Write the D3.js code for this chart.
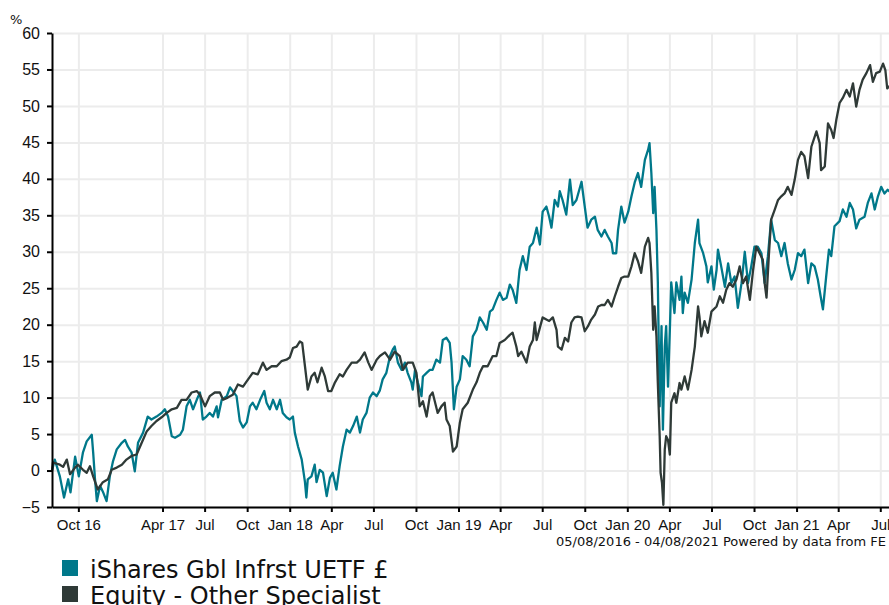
<!DOCTYPE html>
<html>
<head>
<meta charset="utf-8">
<script src="https://cdn.jsdelivr.net/npm/d3@7"></script>
<style>
  body { margin: 0; background: #fff; overflow: hidden; }
  svg { display: block; font-family: 'DejaVu Sans', Verdana, sans-serif; }
</style>
</head>
<body>
<div id="chart-area"></div>
<script>
// period shown and series names
const startDate = new Date(2016, 7, 5);
const endDate = new Date(2021, 7, 4);
const seriesNames = ['iShares Gbl Infrst UETF £', 'Equity - Other Specialist'];
const seriesColors = ['#00788a', '#2f3a37'];

// iShares Gbl Infrst UETF £ : days since 05/08/2016 and cumulative % return
const infraDays = [0,6,17,26,35,40,50,58,67,75,86,89,93,97,104,110,118,125,132,140,
  151,158,164,172,179,186,197,207,215,226,237,244,251,259,266,277,283,291,298,305,
  313,320,326,334,341,348,356,359,367,378,385,391,399,406,413,421,428,434,442,450,
  459,464,471,478,486,493,499,507,514,521,525,532,540,542,547,550,553,561,568,572,
  579,586,594,601,607,615,622,629,637,644,651,659,666,672,680,687,694,702,709,715,
  723,731,737,741,748,756,763,769,777,780,785,791,799,802,810,817,823,831,839,845,
  853,860,864,869,875,882,888,896,903,910,918,925,932,940,947,953,961,968,975,983,
  990,996,1004,1011,1018,1026,1033,1040,1048,1055,1061,1069,1075,1080,1087,1094,1098,1104,1112,1120,
  1126,1134,1145,1152,1158,1166,1174,1180,1188,1195,1202,1210,1213,1220,1224,1231,1238,1246,1253,1260,
  1267,1274,1282,1289,1292,1296,1300,1303,1307,1310,1314,1318,1321,1325,1328,1332,1336,1339,1346,1350,
  1357,1361,1364,1368,1375,1383,1390,1397,1400,1408,1415,1418,1426,1431,1437,1440,1447,1455,1462,1469,
  1476,1483,1491,1498,1505,1512,1519,1526,1534,1541,1548,1555,1563,1570,1577,1584,1591,1599,1606,1613,
  1620,1627,1635,1642,1649,1656,1662,1667,1674,1680,1685,1692,1703,1710,1718,1725,1732,1739,1746,1757,
  1764,1772,1779,1786,1793,1800,1807,1812];
const infraValues = [0,1.5,-0.8,-3.7,-1.2,-3,1.9,-0.8,2.5,4,
  4.9,2.5,-1.2,-4.2,-2.1,-2.9,-4.2,-0.8,1.3,2.9,
  3.8,4.2,3.3,2.5,-0.1,3.8,5.2,7.4,7,7.4,
  7.9,8.4,7.4,4.7,4.5,4.9,5.6,8.8,9.7,8.4,
  9.7,10.7,7,7.4,7.9,7.4,8.8,7.3,9.7,10.2,
  11.4,10.9,10.2,6.8,5.9,6.6,8.8,9.3,8.4,9.7,
  10.9,9.3,8.4,9.7,8.4,9.7,7.9,7.3,7,7.4,
  5.2,3.3,1.5,0.6,-1.6,-3.7,-1.2,-0.8,0.8,-1.6,
  0.1,-0.3,-3.5,-1,-0.3,-2.6,0.6,3.3,5.6,5.2,
  6.1,7.4,5.2,7,7.9,10,10.7,10.2,11,12.5,
  13.4,15.7,16.6,17,14.8,13.8,14.8,13.4,12.1,11.1,
  13.8,12.1,10.2,12.9,13.4,13.8,13.8,15.2,14.8,17.9,
  18.2,17.5,14.8,8.4,11.5,12.5,15.7,15.2,14.3,18.4,
  19.3,21,20.3,19.3,21.8,22.1,23.4,24.4,23.4,23.7,
  25.5,24.8,23,27.5,29.4,27.5,30.7,31.2,33.3,31,
  35.5,36.2,34.8,33.3,37.1,36.2,38.3,37.1,35.1,39.9,
  36.4,37.1,39.6,36.2,33.3,34.4,34.8,33,32.1,33,
  32.1,31.2,29.8,29.8,33,36.2,34,35.5,37.6,39.5,
  40.8,38.9,42.6,44,44.9,40.8,35.3,38.9,33,25.8,
  8.8,19.8,5.6,17,19.8,11.5,19.3,25.8,21.6,25.8,
  23.4,26.6,21.6,24.4,23,26.2,31.2,34.4,31.2,29.8,
  28,25.8,28,24.8,27.5,30.3,28,25.2,28.4,25.7,
  26.6,22.3,25.7,30,25.7,28,30.7,30.7,29.8,25.7,
  29.4,34.4,31.6,31.2,29.4,31.2,28.4,26.2,27.5,29.8,
  29.4,30.3,25.7,28.4,28,26.2,23.9,22.1,26.6,30.3,
  29.4,33.5,34.2,35.8,34.8,36.7,35.8,33.2,34.4,34.8,
  36.7,38,35.8,37.6,38.9,38,38.5,38.2];

// Equity - Other Specialist sector average
const sectorDays = [0,2,17,24,32,39,50,56,67,75,82,89,99,110,121,129,140,151,161,172,
  183,194,205,215,226,237,248,259,270,280,291,302,313,320,331,341,352,363,370,380,
  391,402,413,424,434,445,456,464,475,486,496,507,514,521,529,536,541,547,553,561,
  568,574,583,590,597,604,612,622,629,637,648,659,666,676,684,691,702,709,720,731,
  741,752,759,769,780,788,795,802,810,817,823,834,842,849,853,860,867,875,882,888,
  899,910,918,925,932,942,953,961,968,979,990,996,1004,1008,1015,1026,1033,1040,1044,1048,
  1055,1061,1069,1075,1083,1091,1094,1102,1109,1116,1123,1130,1137,1145,1152,1159,1166,1174,1181,1188,
  1195,1202,1210,1217,1224,1231,1238,1246,1253,1260,1267,1274,1282,1289,1292,1296,1300,1303,1307,1310,
  1314,1316,1319,1322,1325,1328,1332,1336,1339,1346,1350,1357,1361,1368,1375,1383,1390,1397,1400,1404,
  1411,1418,1426,1429,1437,1444,1451,1458,1465,1472,1480,1487,1494,1501,1509,1516,1523,1530,1537,1541,
  1545,1550,1555,1563,1570,1577,1584,1591,1599,1606,1613,1620,1627,1635,1642,1653,1660,1663,1671,1678,
  1685,1690,1696,1703,1710,1718,1725,1732,1739,1746,1753,1761,1769,1775,1782,1790,1797,1802,1806,1812];
const sectorValues = [0,1.1,0.8,0.5,1.5,-0.5,0.4,0.8,0.1,-0.3,
  0.6,-0.8,-2.6,-1.6,-1.2,0.1,0.4,0.8,1.5,2,
  2.2,3.8,5.4,6.1,6.8,7.3,7.9,8.4,8.6,9.7,
  9.7,10.7,10.9,10.4,8.8,10.2,10.7,10.7,9.7,10,
  10.4,11.8,11.5,12.5,13.4,13.2,14.8,13.8,14.3,14.3,
  15,15.2,15.5,16.8,17,17.7,17.5,14.3,11.1,12.9,
  13.4,12.1,14.1,12.9,10.9,10.9,12.1,13.2,12.9,13.8,
  14.8,14.8,15.2,16.2,14.8,13.8,15.2,15.7,16.2,15.2,
  16.3,15.7,13.8,14.8,14.8,13.4,8.8,9.5,7.4,10.2,
  10.7,7.9,8.8,9.3,7,6.1,2.6,3.3,6.6,8.4,
  9.3,11.1,12.1,13.4,14.3,14.3,15.7,15.7,17.5,17.9,
  18.6,18.9,17,15.7,16.3,14.8,17,17.9,20.3,17.9,
  19.6,21,20.7,20.5,21,19.3,17,16.6,18.2,17.7,
  20.3,21,21.1,21,19.1,19.8,20.7,21.4,22.5,22.7,
  22.7,23.4,22.5,23.9,25.2,26.4,26.6,26.6,28,29.8,
  28.7,27.1,30.7,31.9,31.2,27.1,19.3,22.5,18.4,12,
  4.7,-0.3,-1.7,-4.7,2.9,4.7,4.2,2.2,9.3,10.6,
  9.3,12,11.1,12.9,11.1,13.8,17,22.5,21.1,18.4,
  20.5,18.9,21.8,22,22.5,23.9,23,24.8,25.7,25.2,
  26.2,28,25.7,26.6,23.4,27.5,30.7,29.8,28.9,25.7,
  23.7,29.4,34.4,35.8,37.1,37.6,38,38.9,37.8,39.9,
  42.6,43.7,43.1,40.1,44.4,46.5,44.9,41.2,41.7,47.6,
  46.7,45.6,48.1,50.4,51.1,52.2,51.3,53.1,49.9,52.2,
  53.6,54.5,55.6,53.3,54.5,54.7,55.8,54.9,52.4,52.8];

// axis ticks
const yTicks = [-5, 0, 5, 10, 15, 20, 25, 30, 35, 40, 45, 50, 55, 60];
const xTickDates = ['2016-10-01', '2017-04-01', '2017-07-01', '2017-10-01', '2018-01-01',
  '2018-04-01', '2018-07-01', '2018-10-01', '2019-01-01', '2019-04-01', '2019-07-01',
  '2019-10-01', '2020-01-01', '2020-04-01', '2020-07-01', '2020-10-01', '2021-01-01',
  '2021-04-01', '2021-07-01'];
const xTickLabels = ['Oct 16', 'Apr 17', 'Jul', 'Oct', 'Jan 18', 'Apr', 'Jul', 'Oct', 'Jan 19',
  'Apr', 'Jul', 'Oct', 'Jan 20', 'Apr', 'Jul', 'Oct', 'Jan 21', 'Apr', 'Jul'];
const footerText = '05/08/2016 - 04/08/2021 Powered by data from FE';

let width = 889;
let height = 605;
let plot = { left: 52, right: 896, top: 33, bottom: 507 };

let parseDate = d3.timeParse('%Y-%m-%d');
let tickDates = xTickDates.map(parseDate);

let xScale = d3.scaleTime().domain([startDate, endDate]).range([plot.left, plot.right]);
let yScale = d3.scaleLinear().domain([-5, 60]).range([plot.bottom, plot.top]);

let series = [
  infraDays.map((d, i) => ({ date: d3.timeDay.offset(startDate, d), value: infraValues[i] })),
  sectorDays.map((d, i) => ({ date: d3.timeDay.offset(startDate, d), value: sectorValues[i] })),
];

let chart = d3
  .select('#chart-area')
  .append('svg')
  .attr('width', width)
  .attr('height', height);

//grid lines
chart
  .append('g')
  .attr('id', 'y-grid')
  .attr('transform', `translate(${plot.left}, 0)`)
  .call(d3.axisLeft(yScale).tickValues(yTicks).tickSize(-(plot.right - plot.left)).tickFormat(''))
  .call((g) => g.select('.domain').remove())
  .selectAll('line')
  .attr('stroke', '#ececec')
  .attr('stroke-width', 2);
chart
  .append('g')
  .attr('id', 'x-grid')
  .attr('transform', `translate(0, ${plot.bottom})`)
  .call(d3.axisBottom(xScale).tickValues(tickDates).tickSize(-(plot.bottom - plot.top)).tickFormat(''))
  .call((g) => g.select('.domain').remove())
  .selectAll('line')
  .attr('stroke', '#ececec')
  .attr('stroke-width', 2);

//lines
let line = d3
  .line()
  .x((d) => xScale(d.date))
  .y((d) => yScale(d.value));
chart
  .append('g')
  .attr('id', 'lines')
  .selectAll('path')
  .data(series)
  .enter()
  .append('path')
  .attr('d', (d) => line(d))
  .attr('fill', 'none')
  .attr('stroke', (d, i) => seriesColors[i])
  .attr('stroke-width', 2.3)
  .attr('stroke-linejoin', 'round');

//axes
let yAxis = chart
  .append('g')
  .attr('id', 'y-axis')
  .attr('transform', `translate(${plot.left}, 0)`)
  .call(d3.axisLeft(yScale).tickValues(yTicks).tickSize(5).tickPadding(7).tickSizeOuter(0));
let xAxis = chart
  .append('g')
  .attr('id', 'x-axis')
  .attr('transform', `translate(0, ${plot.bottom})`)
  .call(
    d3
      .axisBottom(xScale)
      .tickValues(tickDates)
      .tickSize(5)
      .tickPadding(7)
      .tickSizeOuter(0)
      .tickFormat((d, i) => xTickLabels[i]),
  );
[yAxis, xAxis].forEach((g) => {
  g.select('.domain').attr('stroke', '#000').attr('stroke-width', 2);
  g.selectAll('.tick line').attr('stroke', '#000').attr('stroke-width', 2);
  g.selectAll('.tick text').attr('fill', '#111').attr('font-family', null);
});
yAxis.selectAll('.tick text').style('font-size', '16px');
xAxis.selectAll('.tick text').style('font-size', '15px');

//unit label
chart
  .append('text')
  .attr('x', 10)
  .attr('y', 24)
  .style('font-size', '13px')
  .attr('fill', '#111')
  .text('%');

//footer
chart
  .append('text')
  .attr('x', 556)
  .attr('y', 546)
  .style('font-size', '13px')
  .attr('fill', '#111')
  .text(footerText);

//legend
let legend = chart
  .append('g')
  .attr('id', 'legend')
  .selectAll('g')
  .data(seriesNames)
  .enter()
  .append('g')
  .attr('transform', (d, i) => `translate(62, ${560 + i * 26})`);
legend
  .append('rect')
  .attr('width', 16)
  .attr('height', 16)
  .attr('fill', (d, i) => seriesColors[i]);
legend
  .append('text')
  .attr('x', 28)
  .attr('y', 18)
  .style('font-size', '24px')
  .attr('fill', '#111')
  .text((d) => d);
</script>
</body>
</html>
